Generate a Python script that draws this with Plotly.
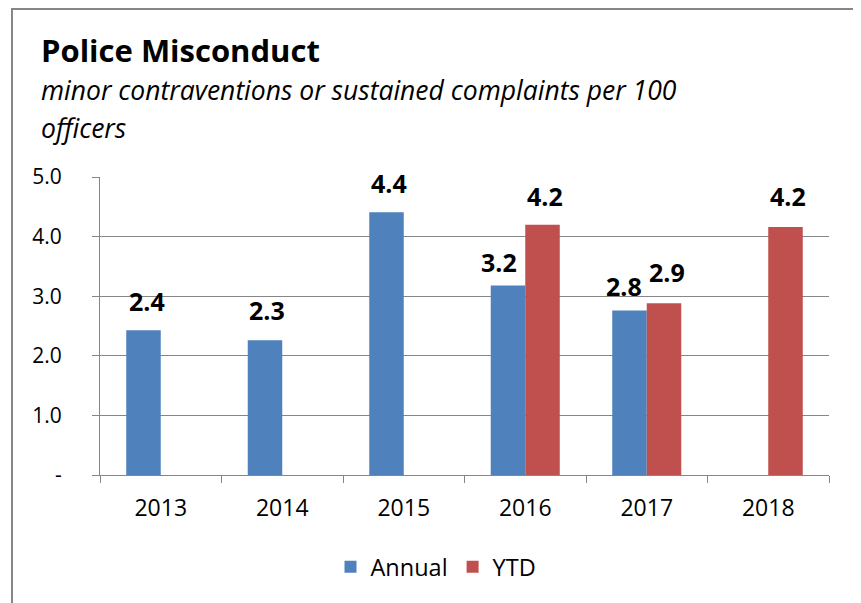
import plotly.graph_objects as go

# ---- data ----
years = ["2013", "2014", "2015", "2016", "2017", "2018"]
annual = [2.43, 2.26, 4.41, 3.18, 2.76, None]
ytd = [None, None, None, 4.20, 2.88, 4.16]
y_tickvals = [0, 1, 2, 3, 4, 5]
y_ticktext = ["-", "1.0", "2.0", "3.0", "4.0", "5.0"]
title_text = "Police Misconduct"
subtitle_lines = ["minor contraventions or sustained complaints per 100", "officers"]
series_names = ["Annual", "YTD"]

# ---- style ----
BLUE = "#4F81BD"
RED = "#C0504D"
GRID = "#868686"
FONT = "Open Sans"

OFF = 8  # page body margin
W, H = 861 - OFF, 603 - OFF
L, T = 100 - OFF, 177 - OFF
R = W - (829 - OFF)
B = H - (475 - OFF)
plot_h = H - T - B
plot_w = W - L - R


def px(x_page):
    return (x_page - OFF - L) / plot_w


def py(y_page):
    return (H - B - (y_page - OFF)) / plot_h


fig = go.Figure()
fig.add_trace(go.Bar(x=years, y=annual, name=series_names[0], marker=dict(color=BLUE, line=dict(width=0))))
fig.add_trace(go.Bar(x=years, y=ytd, name=series_names[1], marker=dict(color=RED, line=dict(width=0))))

annotations = []
# title + subtitle
annotations.append(dict(text="<b>" + title_text + "</b>", x=px(39), y=py(50), xref="paper", yref="paper",
                        xanchor="left", yanchor="middle", showarrow=False,
                        font=dict(family=FONT, size=31, color="black")))
for i, (line, yc) in enumerate(zip(subtitle_lines, [90, 128])):
    annotations.append(dict(text="<i>" + line + "</i>", x=px(39), y=py(yc), xref="paper", yref="paper",
                            xanchor="left", yanchor="middle", showarrow=False,
                            font=dict(family=FONT, size=26.5, color="black")))

# data labels (x given as category index)
half = 17
annual_dx = [3, 2, 2, -9, -6, 0]
annual_dy = [0, 1, 0, -6, -4, 0]
ytd_dx = [0, 0, 0, 3, 3, 3]
ytd_dy = [0, 0, 0, 0, 2, 2]
for vals, sign, dxs, dys in [(annual, -1, annual_dx, annual_dy), (ytd, 1, ytd_dx, ytd_dy)]:
    for idx, (v, dx, dy) in enumerate(zip(vals, dxs, dys)):
        if v is None:
            continue
        annotations.append(dict(text="<b>%.1f</b>" % v, x=idx, y=v, xref="x", yref="y",
                                xshift=sign * half + dx, yshift=29 + dy,
                                xanchor="center", yanchor="middle", showarrow=False,
                                font=dict(family=FONT, size=25, color="black")))

fig.update_layout(
    width=W, height=H,
    margin=dict(l=L, r=R, t=T, b=B, pad=0),
    paper_bgcolor="white", plot_bgcolor="white",
    barmode="group", bargap=0.432, bargroupgap=0,
    font=dict(family=FONT, size=22, color="black"),
    showlegend=True,
    legend=dict(orientation="h", x=px(436), y=py(567), xanchor="center", yanchor="middle",
                font=dict(family=FONT, size=23.5, color="black"), traceorder="normal",
                itemwidth=30, bgcolor="rgba(0,0,0,0)"),
    annotations=annotations,
    shapes=[dict(type="rect", xref="paper", yref="paper", x0=px(12), x1=px(857), y0=py(640), y1=py(OFF + 1),
                 line=dict(color=GRID, width=2), fillcolor="rgba(0,0,0,0)", layer="above")],
)
fig.update_xaxes(type="category", categoryorder="array", categoryarray=years, range=[-0.5, len(years) - 0.5],
                 autorange=False, automargin=False, tickangle=0,
                 showline=True, linecolor=GRID, linewidth=1, showgrid=False,
                 ticks="outside", tickson="boundaries", ticklen=7, tickcolor=GRID, tickwidth=1,
                 tickfont=dict(family=FONT, size=23, color="black"), ticklabelstandoff=12)
fig.update_yaxes(range=[0, 5], autorange=False, automargin=False, tickvals=y_tickvals, ticktext=y_ticktext,
                 showline=True, linecolor=GRID,
                 linewidth=1, showgrid=True, gridcolor=GRID, gridwidth=1, zeroline=False,
                 ticks="outside", ticklen=7, tickcolor=GRID, tickwidth=1,
                 tickfont=dict(family=FONT, size=21, color="black"), ticklabelstandoff=26)

fig.write_html("out.html")
